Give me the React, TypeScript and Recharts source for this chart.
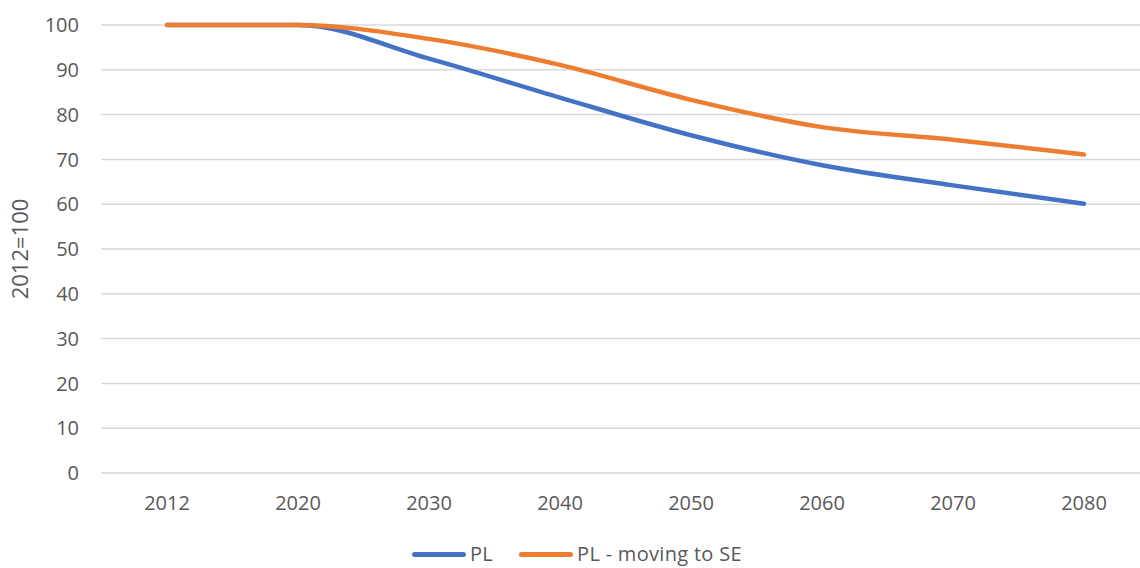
import React from 'react';
import { LineChart, Line, XAxis, YAxis, CartesianGrid, Legend } from 'recharts';

const years = ['2012', '2020', '2030', '2040', '2050', '2060', '2070', '2080'];
const plValues = [100, 100, 92.5, 83.8, 75.4, 68.7, 64.2, 60.1];
const plMovingValues = [100, 100, 96.9, 91.1, 83.3, 77.2, 74.4, 71.1];
const yTicks = [0, 10, 20, 30, 40, 50, 60, 70, 80, 90, 100];

const seriesNames = { pl: 'PL', plMoving: 'PL - moving to SE' };
const colors = { pl: '#4472C4', plMoving: '#ED7D31' };

const data = years.map((year, i) => ({
  year,
  pl: plValues[i],
  plMoving: plMovingValues[i],
}));

const FONT = '"Open Sans", "Liberation Sans", sans-serif';
const TEXT = '#595959';

const LegendContent = () => (
  <div
    style={{
      display: 'flex',
      alignItems: 'center',
      height: 22,
      lineHeight: '22px',
      fontFamily: FONT,
      fontSize: 20,
      color: TEXT,
    }}
  >
    {(['pl', 'plMoving'] as const).map((key, i) => (
      <div key={key} style={{ display: 'flex', alignItems: 'center', marginLeft: i === 0 ? 0 : 26 }}>
        <div style={{ width: 54, height: 5, borderRadius: 3, background: colors[key], marginRight: 4 }} />
        <span style={{ whiteSpace: 'nowrap', letterSpacing: 0.3 }}>{seriesNames[key]}</span>
      </div>
    ))}
  </div>
);

export default function App() {
  return (
    <div style={{ position: 'absolute', left: 0, top: 0, width: 1140, height: 568, overflow: 'hidden', background: '#fff' }}>
      <LineChart width={1160} height={568} data={data} margin={{ top: 25, right: 10, left: 0, bottom: 3 }}>
        <CartesianGrid vertical={false} stroke="#D9D9D9" strokeWidth={1.5} />
        <XAxis
          dataKey="year"
          axisLine={false}
          tickLine={false}
          tickSize={0}
          tickMargin={23}
          height={70}
          padding={{ left: 66, right: 66 }}
          tick={{ fill: TEXT, fontSize: 20, fontFamily: FONT }}
        />
        <YAxis
          domain={[0, 100]}
          ticks={yTicks}
          axisLine={false}
          tickLine={false}
          tickSize={0}
          tickMargin={22}
          width={101}
          tick={{ fill: TEXT, fontSize: 20, fontFamily: FONT }}
          label={{
            value: '2012=100',
            angle: -90,
            position: 'insideLeft',
            offset: 0,
            dx: 20,
            style: { fill: TEXT, fontSize: 22, fontFamily: FONT, textAnchor: 'middle' },
          }}
        />
        <Legend
          verticalAlign="bottom"
          content={<LegendContent />}
          wrapperStyle={{ left: 412, width: 360, height: 22 }}
        />
        <Line
          type="monotone"
          dataKey="pl"
          name={seriesNames.pl}
          stroke={colors.pl}
          strokeWidth={4.5}
          strokeLinecap="round"
          dot={false}
          activeDot={false}
          isAnimationActive={false}
        />
        <Line
          type="monotone"
          dataKey="plMoving"
          name={seriesNames.plMoving}
          stroke={colors.plMoving}
          strokeWidth={4.5}
          strokeLinecap="round"
          dot={false}
          activeDot={false}
          isAnimationActive={false}
        />
      </LineChart>
    </div>
  );
}
